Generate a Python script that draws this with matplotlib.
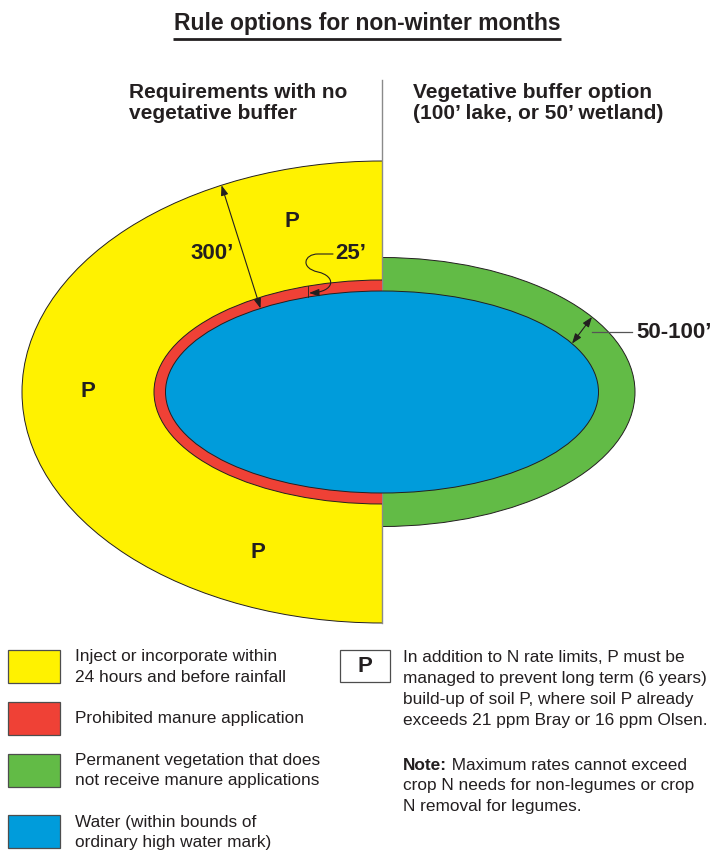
import matplotlib
matplotlib.use('Agg')
import matplotlib.pyplot as plt
from matplotlib.patches import Ellipse, Rectangle, FancyArrowPatch
from matplotlib.path import Path
import numpy as np

plt.rcParams['font.family'] = ['Liberation Sans', 'DejaVu Sans']

INK = '#231f20'
YELLOW, RED, GREEN, BLUE = '#fff200', '#ef4136', '#62bb46', '#009cdb'

# diagram geometry (pixel units, y grows downward)
CX, CY = 382, 392
YELLOW_AB = (360, 231)
RED_AB = (228, 112)
GREEN_AB = (253, 134.5)
WATER_AB = (216.5, 101)

TITLE = 'Rule options for non-winter months'
HEAD_LEFT = ['Requirements with no', 'vegetative buffer']
HEAD_RIGHT = ['Vegetative buffer option', '(100\u2019 lake, or 50\u2019 wetland)']

LEGEND_COLORS = [YELLOW, RED, GREEN, BLUE]
LEGEND_LABELS = [
    ['Inject or incorporate within', '24 hours and before rainfall'],
    ['Prohibited manure application'],
    ['Permanent vegetation that does', 'not receive manure applications'],
    ['Water (within bounds of', 'ordinary high water mark)'],
]
P_NOTE = ['In addition to N rate limits, P must be',
          'managed to prevent long term (6 years)',
          'build-up of soil P, where soil P already',
          'exceeds 21 ppm Bray or 16 ppm Olsen.']
NOTE_REST = [' Maximum rates cannot exceed',
             'crop N needs for non-legumes or crop',
             'N removal for legumes.']


def on_ellipse(ab, x, upper=True):
    a, b = ab
    dy = b * np.sqrt(max(0.0, 1 - ((x - CX) / a) ** 2))
    return (x, CY - dy if upper else CY + dy)


fig = plt.figure(figsize=(7.15, 8.5), dpi=100)
ax = fig.add_axes([0, 0, 1, 1])
ax.set_xlim(0, 715); ax.set_ylim(850, 0); ax.axis('off')

# title + headings
ax.text(367, 23, TITLE, ha='center', va='center', fontsize=16.5, fontweight='bold', color=INK)
ax.plot([173, 561], [39, 39], color=INK, lw=2, solid_capstyle='butt')
for i, (l, r) in enumerate(zip(HEAD_LEFT, HEAD_RIGHT)):
    ax.text(129, 92 + i * 21, l, ha='left', va='center', fontsize=15, fontweight='bold', color=INK)
    ax.text(413, 92 + i * 21, r, ha='left', va='center', fontsize=15, fontweight='bold', color=INK)
# divider / straight edge of the yellow zone (hidden behind red + water)
ax.plot([CX, CX], [80, CY + YELLOW_AB[1]], color='#8a8a8a', lw=1, zorder=2.5)

# zones
left_clip = Rectangle((0, 0), CX, 850, transform=ax.transData)
ax.add_patch(Ellipse((CX, CY), 2 * GREEN_AB[0], 2 * GREEN_AB[1], fc=GREEN, ec=INK, lw=0.7, zorder=1))
yel = ax.add_patch(Ellipse((CX, CY), 2 * YELLOW_AB[0], 2 * YELLOW_AB[1], fc=YELLOW, ec=INK, lw=0.7, zorder=2))
yel.set_clip_path(left_clip)
red = ax.add_patch(Ellipse((CX, CY), 2 * RED_AB[0], 2 * RED_AB[1], fc=RED, ec=INK, lw=0.7, zorder=3))
red.set_clip_path(left_clip)
ax.add_patch(Ellipse((CX, CY), 2 * WATER_AB[0], 2 * WATER_AB[1], fc=BLUE, ec=INK, lw=0.7, zorder=4))

# labels in the zones
for px, py in [(292, 221), (88, 391), (258, 552)]:
    ax.text(px, py, 'P', ha='center', va='center', fontsize=16, fontweight='bold', color=INK, zorder=7)
ax.text(212, 253, '300\u2019', ha='center', va='center', fontsize=16, fontweight='bold', color=INK, zorder=7)
ax.text(335, 253, '25\u2019', ha='left', va='center', fontsize=16, fontweight='bold', color=INK, zorder=7)
ax.text(636, 333, '50-100\u2019', ha='left', va='center', fontsize=16, fontweight='bold', color=INK, zorder=7)

astyle = '<|-|>,head_length=0.6,head_width=0.22'
ax.add_patch(FancyArrowPatch(on_ellipse(YELLOW_AB, 221.5), on_ellipse(WATER_AB, 260.5), arrowstyle=astyle,
                             mutation_scale=10, lw=0.8, color=INK, shrinkA=0, shrinkB=0, zorder=7))
ax.add_patch(FancyArrowPatch(on_ellipse(GREEN_AB, 592), on_ellipse(WATER_AB, 572), arrowstyle=astyle,
                             mutation_scale=10, lw=0.8, color=INK, shrinkA=0, shrinkB=0, zorder=7))
ax.plot([592, 632], [332, 332], color='#555555', lw=0.9, zorder=7)

# 25' leader and tick
ax.plot([307.5, 307.5], [on_ellipse(RED_AB, 307.5)[1], on_ellipse(WATER_AB, 307.5)[1]], color=INK, lw=0.6, zorder=7)
lead = Path([(333, 254), (318, 254), (304, 254), (300, 268), (318, 272),
             (336, 276), (336, 292), (309, 293)],
            [Path.MOVETO, Path.LINETO, Path.CURVE4, Path.CURVE4, Path.CURVE4,
             Path.CURVE4, Path.CURVE4, Path.CURVE4])
ax.add_patch(FancyArrowPatch(path=lead, arrowstyle='-|>,head_length=0.6,head_width=0.22',
                             mutation_scale=10, lw=0.8, color=INK, zorder=7))

# legend
box_y = [650, 702, 754, 815]
for y0, c, lines in zip(box_y, LEGEND_COLORS, LEGEND_LABELS):
    ax.add_patch(Rectangle((8, y0), 52, 33, fc=c, ec='#4d4d4d', lw=0.9))
    if len(lines) == 1:
        ax.text(75, y0 + 17, lines[0], ha='left', va='center', fontsize=12.4, color=INK)
    else:
        for j, s in enumerate(lines):
            ax.text(75, y0 + 7 + j * 20, s, ha='left', va='center', fontsize=12.4, color=INK)

ax.add_patch(Rectangle((340, 650), 50, 32, fc='white', ec='#4d4d4d', lw=0.9))
ax.text(365, 666, 'P', ha='center', va='center', fontsize=16, fontweight='bold', color=INK)
for j, s in enumerate(P_NOTE):
    ax.text(403, 658 + j * 20.7, s, ha='left', va='center', fontsize=12.4, color=INK)
t = ax.text(403, 765, 'Note:', ha='left', va='center', fontsize=12.4, fontweight='bold', color=INK)
ax.annotate(NOTE_REST[0], xy=(1, 0.5), xycoords=t, ha='left', va='center', fontsize=12.4, color=INK)
for j, s in enumerate(NOTE_REST[1:]):
    ax.text(403, 785.7 + j * 20.7, s, ha='left', va='center', fontsize=12.4, color=INK)

fig.savefig('out.png', dpi=100)
